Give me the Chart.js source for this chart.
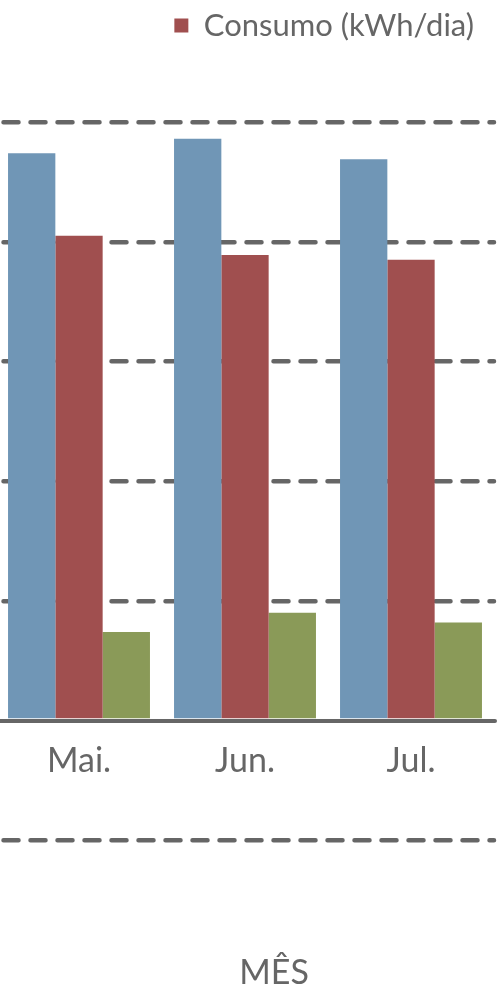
<!DOCTYPE html>
<html>
<head>
<meta charset="utf-8">
<script src="https://cdn.jsdelivr.net/npm/chart.js@4/dist/chart.umd.min.js"></script>
<style>
	body { margin: 0; background: #fff; overflow: hidden; }
	.chart-box { width: 504px; height: 1000px; margin-left: -4px; }
</style>
</head>
<body>
<div class="chart-box"><canvas class="chart-bar"></canvas></div>
<script>
// chart data
const categories = ['Mai.', 'Jun.', 'Jul.'];
const seriesLabels = ['Série 1', 'Consumo (kWh/dia)', 'Série 3'];
const blueValues = [4.74, 4.86, 4.69];
const redValues = [4.05, 3.89, 3.85];
const greenValues = [0.74, 0.90, 0.82];
const yMin = -1.877;
const yMax = 5.594;

const textColor = '#666666';
const lineColor = '#666666';

document.addEventListener('DOMContentLoaded', () => {
	Chart.defaults.font.family = 'Lato';
	Chart.defaults.color = textColor;

	const chartBar = document.querySelector('.chart-bar');

	// round ends on the dashed grid lines
	const roundCaps = {
		id: 'roundCaps',
		beforeDraw(chart) {
			chart.ctx.lineCap = 'round';
		}
	};

	// axis title sits a bit right of the centre in the original
	const titleShift = {
		id: 'titleShift',
		afterLayout(chart) {
			const s = chart.scales.xTitle;
			s.left += 29;
			s.right += 29;
		}
	};

	new Chart(chartBar, {
		type: 'bar',
		data: {
			labels: categories,
			datasets: [{
					label: seriesLabels[0],
					data: blueValues,
					backgroundColor: '#7096B6',
					borderWidth: 0
				},
				{
					label: seriesLabels[1],
					data: redValues,
					backgroundColor: '#A04F4F',
					borderWidth: 0
				},
				{
					label: seriesLabels[2],
					data: greenValues,
					backgroundColor: '#8A9A58',
					borderWidth: 0
				}
			]
		},
		options: {
			responsive: true,
			maintainAspectRatio: false,
			animation: false,
			layout: {
				padding: { top: -10, left: 0, right: 6, bottom: 0 }
			},
			datasets: {
				bar: {
					categoryPercentage: 0.855,
					barPercentage: 1
				}
			},
			scales: {
				x: {
					display: false,
					offset: true
				},
				xTitle: {
					type: 'category',
					axis: 'x',
					position: 'bottom',
					offset: true,
					grid: { display: false, drawTicks: false, tickLength: 0 },
					border: { display: false },
					ticks: { display: false },
					title: {
						display: true,
						text: 'MÊS',
						color: textColor,
						font: { size: 34 },
						padding: { top: 7, bottom: 7 }
					}
				},
				x2: {
					type: 'category',
					axis: 'x',
					offset: true,
					position: { y: 0 },
					z: 1,
					grid: { display: false, drawTicks: false, tickLength: 0 },
					border: { display: true, color: lineColor, width: 4 },
					ticks: {
						color: textColor,
						font: { size: 34 },
						padding: 20
					}
				},
				y: {
					min: yMin,
					max: yMax,
					ticks: { display: false, stepSize: 1 },
					border: { display: false, dash: [15, 12], dashOffset: 19.5 },
					grid: {
						drawTicks: false,
						lineWidth: 4.5,
						color: (ctx) => {
							const v = ctx.tick ? ctx.tick.value : null;
							return (Number.isInteger(v) && v !== 0) ? lineColor : 'rgba(0,0,0,0)';
						}
					}
				}
			},
			plugins: {
				legend: {
					position: 'top',
					align: 'end',
					labels: {
						boxWidth: 14,
						boxHeight: 14,
						padding: 20,
						color: textColor,
						font: { size: 31 },
						filter: (item) => item.datasetIndex === 1
					}
				},
				tooltip: { enabled: false }
			}
		},
		plugins: [roundCaps, titleShift]
	});
});
</script>
</body>
</html>
